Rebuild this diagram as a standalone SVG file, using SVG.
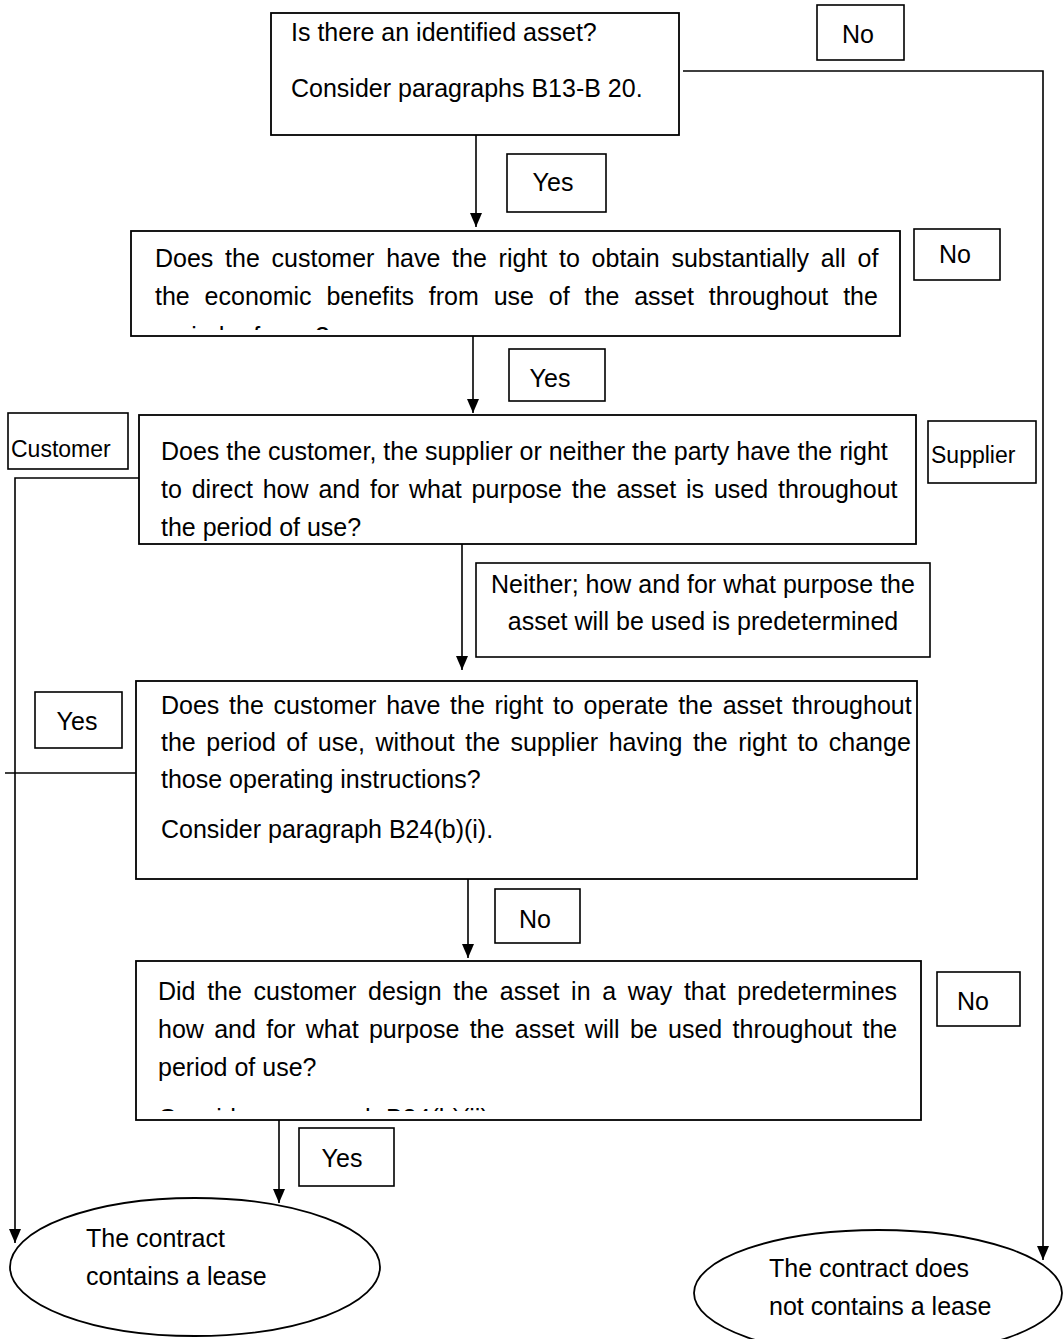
<svg xmlns="http://www.w3.org/2000/svg" width="1064" height="1339" viewBox="0 0 1064 1339">
<style>
.box{fill:#fff;stroke:#000;stroke-width:1.8}
.lbl{fill:#fff;stroke:#000;stroke-width:1.6}
.ln{fill:none;stroke:#000;stroke-width:1.6}
text{font-family:"Liberation Sans",Arial,sans-serif;font-size:25px;fill:#000}
.sm{font-size:23px}
.mid{text-anchor:middle}
</style>
<defs>
<marker id="ah" viewBox="0 0 14 12" refX="14" refY="6" markerWidth="14" markerHeight="12" markerUnits="userSpaceOnUse" orient="auto">
<path d="M0,0 L14,6 L0,12 Z" fill="#000"/>
</marker>
<clipPath id="c2"><rect x="131" y="231" width="769" height="99"/></clipPath>
<clipPath id="c5"><rect x="136" y="961" width="785" height="150"/></clipPath>
</defs>
<g id="connectors">
<path class="ln" d="M476,135 V227" marker-end="url(#ah)"/>
<path class="ln" d="M683,71 H1043 V1260" marker-end="url(#ah)"/>
<path class="ln" d="M473,336 V413" marker-end="url(#ah)"/>
<path class="ln" d="M139,478 H15 V1243" marker-end="url(#ah)"/>
<path class="ln" d="M462,544 V670" marker-end="url(#ah)"/>
<path class="ln" d="M136,773 H5"/>
<path class="ln" d="M468,879 V958" marker-end="url(#ah)"/>
<path class="ln" d="M279,1120 V1203" marker-end="url(#ah)"/>
</g>
<g id="n1">
<rect class="box" x="271" y="13" width="408" height="122"/>
<text x="291" y="41">Is there an identified asset?</text>
<text x="291" y="97">Consider paragraphs B13-B 20.</text>
</g>
<g id="l1no"><rect class="lbl" x="817" y="5" width="87" height="55"/><text class="mid" x="858" y="43">No</text></g>
<g id="l1yes"><rect class="lbl" x="507" y="154" width="99" height="58"/><text class="mid" x="553" y="191">Yes</text></g>
<g id="n2">
<rect class="box" x="131" y="231" width="769" height="105"/>
<g clip-path="url(#c2)">
<text x="155" y="267" word-spacing="4.8">Does the customer have the right to obtain substantially all of</text>
<text x="155" y="305" word-spacing="7.9">the economic benefits from use of the asset throughout the</text>
<text x="155" y="345" word-spacing="7.9">period of use?</text>
</g>
</g>
<g id="l2no"><rect class="lbl" x="914" y="229" width="86" height="51"/><text class="mid" x="955" y="263">No</text></g>
<g id="l2yes"><rect class="lbl" x="509" y="349" width="96" height="52"/><text class="mid" x="550" y="387">Yes</text></g>
<g id="n3">
<rect class="box" x="139" y="415" width="777" height="129"/>
<text x="161" y="460">Does the customer, the supplier or neither the party have the right</text>
<text x="161" y="498" word-spacing="2.9">to direct how and for what purpose the asset is used throughout</text>
<text x="161" y="536">the period of use?</text>
</g>
<g id="lcust"><rect class="lbl" x="8" y="413" width="120" height="56"/><text class="sm" x="11" y="457">Customer</text></g>
<g id="lsupp"><rect class="lbl" x="928" y="421" width="108" height="62"/><text class="sm" x="931" y="463">Supplier</text></g>
<g id="lneither">
<rect class="lbl" x="476" y="563" width="454" height="94"/>
<text class="mid" x="703" y="593">Neither; how and for what purpose the</text>
<text class="mid" x="703" y="630">asset will be used is predetermined</text>
</g>
<g id="n4">
<rect class="box" x="136" y="681" width="781" height="198"/>
<text x="161" y="714" word-spacing="2.8">Does the customer have the right to operate the asset throughout</text>
<text x="161" y="751" word-spacing="3.6">the period of use, without the supplier having the right to change</text>
<text x="161" y="788">those operating instructions?</text>
<text x="161" y="838">Consider paragraph B24(b)(i).</text>
</g>
<g id="l4yes"><rect class="lbl" x="35" y="692" width="87" height="56"/><text class="mid" x="77" y="730">Yes</text></g>
<g id="l4no"><rect class="lbl" x="495" y="889" width="85" height="54"/><text class="mid" x="535" y="928">No</text></g>
<g id="n5">
<rect class="box" x="136" y="961" width="785" height="159"/>
<g clip-path="url(#c5)">
<text x="158" y="1000" word-spacing="4.7">Did the customer design the asset in a way that predetermines</text>
<text x="158" y="1038" word-spacing="3.4">how and for what purpose the asset will be used throughout the</text>
<text x="158" y="1076">period of use?</text>
<text x="158" y="1127">Consider paragraph B24(b)(ii).</text>
</g>
</g>
<g id="l5no"><rect class="lbl" x="937" y="972" width="83" height="54"/><text class="mid" x="973" y="1010">No</text></g>
<g id="l5yes"><rect class="lbl" x="299" y="1128" width="95" height="58"/><text class="mid" x="342" y="1167">Yes</text></g>
<g id="e1">
<ellipse class="box" cx="195" cy="1267" rx="185" ry="69"/>
<text x="86" y="1247">The contract</text>
<text x="86" y="1285">contains a lease</text>
</g>
<g id="e2">
<ellipse class="box" cx="878" cy="1293" rx="184" ry="63"/>
<text x="769" y="1277">The contract does</text>
<text x="769" y="1315">not contains a lease</text>
</g>
</svg>
